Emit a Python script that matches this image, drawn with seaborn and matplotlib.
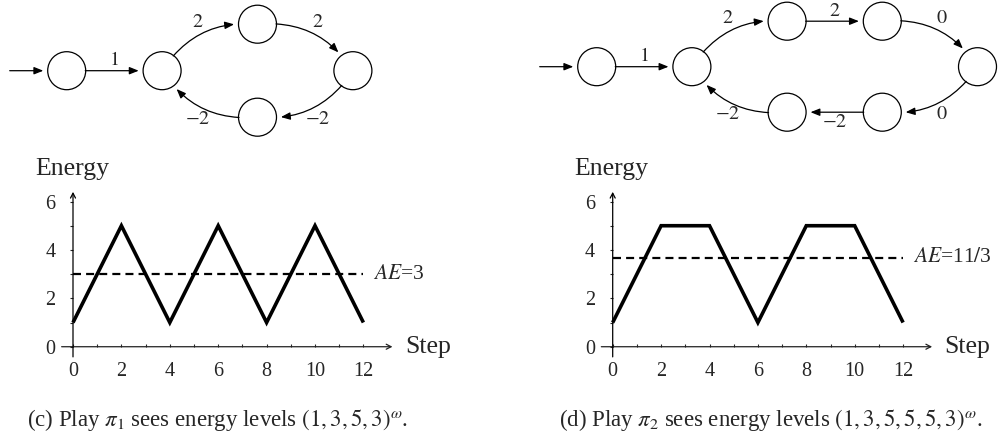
import numpy as np
import pandas as pd
import matplotlib
matplotlib.use("Agg")
import matplotlib.pyplot as plt
import seaborn as sns
from matplotlib.patches import Circle, FancyArrowPatch

# energy levels along the two plays
steps = list(range(13))
energy_pi1 = [1, 3, 5, 3, 1, 3, 5, 3, 1, 3, 5, 3, 1]
energy_pi2 = [1, 3, 5, 5, 5, 3, 1, 3, 5, 5, 5, 3, 1]
avg_energy = [3, 11 / 3]
avg_labels = [r"$AE$=3", r"$AE$=11$/$3"]
captions = [r"(c) Play $\pi_1$ sees energy levels $(1,3,5,3)^{\omega}$.",
            r"(d) Play $\pi_2$ sees energy levels $(1,3,5,5,5,3)^{\omega}$."]

# game graphs: node grid cells (col, row; row -1 is the upper lane) and weighted edges
nodes_g1 = [(0, 0), (1, 0), (2, -1), (3, 0), (2, 1)]
edges_g1 = [(0, 1), (1, 2), (2, 3), (3, 4), (4, 1)]
weights_g1 = [1, 2, 2, -2, -2]
nodes_g2 = [(0, 0), (1, 0), (2, -1), (3, -1), (4, 0), (3, 1), (2, 1)]
edges_g2 = [(0, 1), (1, 2), (2, 3), (3, 4), (4, 5), (5, 6), (6, 1)]
weights_g2 = [1, 2, 2, 0, 0, -2, -2]

sns.set_style("white")
plt.rcParams["font.family"] = ["Liberation Serif", "DejaVu Serif"]
plt.rcParams["mathtext.fontset"] = "stix"

fig = plt.figure(figsize=(10, 4.38), dpi=100)

# overlay in pixel units for the graph drawings and captions
ov = fig.add_axes([0, 0, 1, 1])
ov.set_xlim(0, 1000)
ov.set_ylim(438, 0)
ov.axis("off")
ov.patch.set_alpha(0)


def fmt_w(w):
    return r"$-%d$" % -w if w < 0 else r"$%d$" % w


def draw_graph(nodes, edges, weights, origin, dx, dy):
    r = 19
    pos = [(origin[0] + c * dx, origin[1] + rw * dy) for c, rw in nodes]
    circs = []
    for p in pos:
        c = Circle(p, r, fill=False, lw=0.9, ec="black")
        ov.add_patch(c)
        circs.append(c)
    head = "-|>,head_length=5.5,head_width=2.2"
    # initial arrow
    ov.add_patch(FancyArrowPatch((pos[0][0] - 57, pos[0][1]), pos[0], patchB=circs[0],
                                 arrowstyle=head, mutation_scale=1, lw=0.9,
                                 color="black", shrinkA=0, shrinkB=3.5))
    for (a, b), w in zip(edges, weights):
        (x1, y1), (x2, y2) = pos[a], pos[b]
        ddx, ddy = x2 - x1, y2 - y1
        L = np.hypot(ddx, ddy)
        n = np.array([ddy, -ddx]) / L
        mid = np.array([(x1 + x2) / 2, (y1 + y2) / 2])
        if nodes[a][1] != nodes[b][1]:
            rad = 0.3
            lab = mid + n * (0.5 * rad * L + 12)
        else:
            rad = 0.0
            lab = mid + n * 10
        ov.add_patch(FancyArrowPatch(pos[a], pos[b], patchA=circs[a], patchB=circs[b],
                                     connectionstyle="arc3,rad=%g" % -rad,
                                     arrowstyle=head, mutation_scale=1, lw=0.9,
                                     color="black", shrinkA=0, shrinkB=3.5))
        ov.text(lab[0], lab[1], fmt_w(w), ha="center", va="center", fontsize=14.5)


draw_graph(nodes_g1, edges_g1, weights_g1, (66.7, 70.7), 95.4, 46.5)
draw_graph(nodes_g2, edges_g2, weights_g2, (596.7, 66.7), 95.2, 45.5)

# energy plots
plays = [energy_pi1, energy_pi2]
lefts = [0.0246, 0.5643]
for k in range(2):
    ax = fig.add_axes([lefts[k], 0.0979, 0.4477, 0.5525])
    ax.patch.set_alpha(0)
    df = pd.DataFrame({"step": steps, "energy": plays[k]})
    sns.lineplot(data=df, x="step", y="energy", ax=ax, color="black", lw=2.6,
                 solid_joinstyle="miter", solid_capstyle="butt")
    ae = pd.DataFrame({"step": [steps[0], steps[-1]], "energy": [avg_energy[k]] * 2})
    sns.lineplot(data=ae, x="step", y="energy", ax=ax, color="black", lw=1.6,
                 linestyle=(0, (3.6, 2.3)))
    ax.text(12.4, avg_energy[k], avg_labels[k], ha="left", va="center", fontsize=15.5)
    ax.set_xlim(-2, 16.5)
    ax.set_ylim(-2, 8)
    ax.set_xlabel("")
    ax.set_ylabel("")
    for s in ["top", "right"]:
        ax.spines[s].set_visible(False)
    for s in ["left", "bottom"]:
        ax.spines[s].set_position(("data", 0))
        ax.spines[s].set_visible(False)
    ax.set_xticks(steps)
    ax.set_xticklabels([str(s) if s % 2 == 0 else "" for s in steps])
    ax.set_yticks(range(7))
    ax.set_yticklabels([str(v) if v % 2 == 0 else "" for v in range(7)])
    ax.tick_params(axis="x", direction="in", length=2.2, width=0.8, pad=11,
                   labelsize=14.5, bottom=True)
    ax.tick_params(axis="y", direction="out", length=2.2, width=0.8, pad=10.5,
                   labelsize=14.5, left=True)
    ax.annotate("", xy=(13.2, 0), xytext=(-0.47, 0),
                arrowprops=dict(arrowstyle="->,head_length=0.35,head_width=0.18",
                                lw=0.9, color="#222222", shrinkA=0, shrinkB=0))
    ax.annotate("", xy=(0, 6.4), xytext=(0, -0.42),
                arrowprops=dict(arrowstyle="->,head_length=0.35,head_width=0.18",
                                lw=0.9, color="black", shrinkA=0, shrinkB=0))
    ax.text(13.72, -0.27, "Step", ha="left", va="baseline", fontsize=18.5)
    ax.text(-1.57, 7.1, "Energy", ha="left", va="baseline", fontsize=18.5)

fig.text(0.218, 0.041, captions[0], ha="center", va="center", fontsize=16.5)
fig.text(0.771, 0.041, captions[1], ha="center", va="center", fontsize=16.5)

fig.savefig("out.png", dpi=100)
